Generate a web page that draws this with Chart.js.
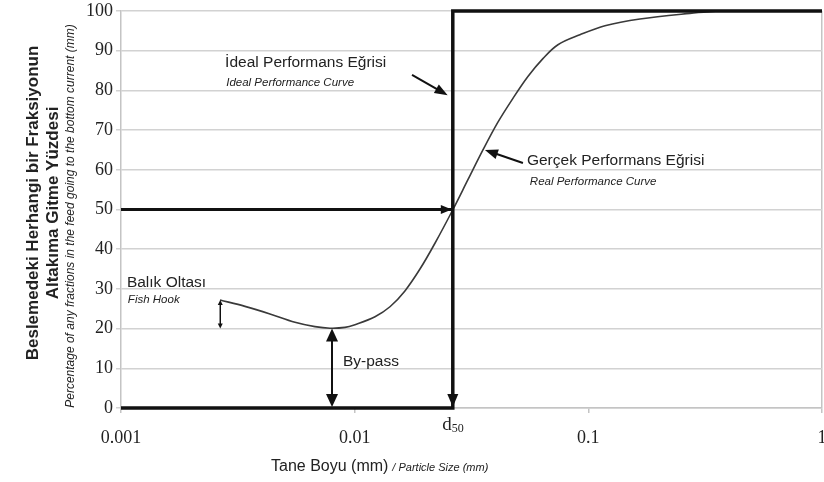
<!DOCTYPE html>
<html>
<head>
<meta charset="utf-8">
<script src="https://cdn.jsdelivr.net/npm/chart.js@4/dist/chart.umd.min.js"></script>
<style>
html,body{margin:0;padding:0;background:#fff;}
#wrap{width:824px;height:482px;position:relative;}
</style>
</head>
<body>
<div id="wrap"><canvas id="c" width="824" height="482"></canvas></div>
<script>
// ---- data ----
const particleSize = [0.002653, 0.003393, 0.004340, 0.005553, 0.006762, 0.007838, 0.009090, 0.01003, 0.01222, 0.01416, 0.01641, 0.01903, 0.02206, 0.02634, 0.03053, 0.03540, 0.04103, 0.04757, 0.05514, 0.06392, 0.07411, 0.09204, 0.1178, 0.1663, 0.2721, 0.3658];
const realPct      = [27.2,     25.6,     23.7,     21.6,     20.5,     20.1,     20.3,     21.0,    23.0,    25.5,    29.5,    35.0,    41.5,    50.0,    57.5,    65.0,    72.0,    78.0,    83.5,    88.0,    91.5,    94.0,    96.3,   98.0,   99.4,   100];
const d50 = 0.0263;
const idealX = [0.001, d50, d50, 1];
const idealY = [0, 0, 100, 100];
const cutX = [0.001, d50];
const cutY = [50, 50];
const xTickValues = [0.001, 0.01, 0.1, 1];
const xTickLabels = ['0.001', '0.01', '0.1', '1'];
const yMin = 0, yMax = 100, yStep = 10;
const bypassX = 0.0080, bypassLow = 0, bypassHigh = 20;
const hookX = 0.00266, hookLow = 20, hookHigh = 27.2;

// ---- chart ----
const toPts = (xs, ys) => xs.map((v, i) => ({x: v, y: ys[i]}));

function arrowHead(ctx, x, y, ang, len, wid) {
  ctx.save();
  ctx.translate(x, y);
  ctx.rotate(ang);
  ctx.beginPath();
  ctx.moveTo(0, 0);
  ctx.lineTo(-len, -wid / 2);
  ctx.lineTo(-len, wid / 2);
  ctx.closePath();
  ctx.fill();
  ctx.restore();
}
function arrow(ctx, x1, y1, x2, y2, lw, len, wid) {
  const ang = Math.atan2(y2 - y1, x2 - x1);
  ctx.lineWidth = lw;
  ctx.beginPath();
  ctx.moveTo(x1, y1);
  ctx.lineTo(x2 - Math.cos(ang) * len * 0.6, y2 - Math.sin(ang) * len * 0.6);
  ctx.stroke();
  arrowHead(ctx, x2, y2, ang, len, wid);
}

const SANS = '"Liberation Sans", Arial, sans-serif';
const SERIF = '"Liberation Serif", "Times New Roman", serif';

const annot = {
  id: 'annot',
  afterDatasetsDraw(chart) {
    const {ctx, scales: {x, y}, chartArea: ca} = chart;
    const X = v => x.getPixelForValue(v), Y = v => y.getPixelForValue(v);
    ctx.save();
    ctx.fillStyle = '#111';
    ctx.strokeStyle = '#111';
    // arrowhead at d50 on the 50% line
    arrowHead(ctx, X(d50) - 1, Y(50), 0, 11, 9);
    // arrowhead at bottom of the d50 line
    arrowHead(ctx, X(d50), Y(0) - 1, Math.PI / 2, 13, 11);
    // by-pass double arrow
    ctx.lineWidth = 2;
    ctx.beginPath();
    ctx.moveTo(X(bypassX), Y(bypassLow) - 10);
    ctx.lineTo(X(bypassX), Y(bypassHigh) + 10);
    ctx.stroke();
    arrowHead(ctx, X(bypassX), Y(bypassLow) - 1, Math.PI / 2, 13, 12);
    arrowHead(ctx, X(bypassX), Y(bypassHigh), -Math.PI / 2, 13, 12);
    // fish hook small double arrow
    ctx.lineWidth = 1.5;
    ctx.beginPath();
    ctx.moveTo(X(hookX), Y(hookLow) - 3);
    ctx.lineTo(X(hookX), Y(hookHigh) + 3);
    ctx.stroke();
    arrowHead(ctx, X(hookX), Y(hookLow), Math.PI / 2, 5, 5);
    arrowHead(ctx, X(hookX), Y(hookHigh), -Math.PI / 2, 5, 5);
    // pointer arrows
    arrow(ctx, X(0.0176), Y(83.9), X(0.0250), Y(78.8), 2, 13, 10);
    arrow(ctx, X(0.0525), Y(61.7), X(0.0361), Y(65.0), 2, 13, 10);

    // annotation texts
    ctx.fillStyle = '#222';
    ctx.textBaseline = 'middle';
    ctx.textAlign = 'left';
    ctx.font = '15.5px ' + SANS;
    ctx.fillText('İdeal Performans Eğrisi', X(0.00279), Y(87.0));
    ctx.fillText('Gerçek Performans Eğrisi', X(0.0546), Y(62.3));
    ctx.fillText('Balık Oltası', X(0.00106), Y(31.5));
    ctx.fillText('By-pass', X(0.00891), Y(11.6));
    ctx.font = 'italic 11.5px ' + SANS;
    ctx.fillText('Ideal Performance Curve', X(0.00282), Y(82.0));
    ctx.fillText('Real Performance Curve', X(0.0562), Y(56.9));
    ctx.fillText('Fish Hook', X(0.00107), Y(27.3));
    // d50 label
    ctx.textAlign = 'right';
    ctx.font = '19px ' + SERIF;
    ctx.fillText('d', X(d50) - 1, ca.bottom + 17);
    ctx.textAlign = 'left';
    ctx.font = '12px ' + SERIF;
    ctx.fillText('50', X(d50) - 1, ca.bottom + 21);
    ctx.restore();
  },
  afterDraw(chart) {
    const {ctx} = chart;
    ctx.save();
    ctx.fillStyle = '#222';
    ctx.textBaseline = 'middle';
    // y axis titles (rotated)
    const yt = [
      {txt: 'Beslemedeki Herhangi bir Fraksiyonun', x: 33, cy: 203, font: 'bold 17px ' + SANS},
      {txt: 'Altakıma Gitme Yüzdesi', x: 53, cy: 203, font: 'bold 17px ' + SANS},
      {txt: 'Percentage of any fractions in the feed going to the bottom current (mm)', x: 71, cy: 216, font: 'italic 12px ' + SANS}
    ];
    yt.forEach(t => {
      ctx.save();
      ctx.translate(t.x, t.cy);
      ctx.rotate(-Math.PI / 2);
      ctx.textAlign = 'center';
      ctx.font = t.font;
      ctx.fillText(t.txt, 0, 0);
      ctx.restore();
    });
    // x axis title
    ctx.textAlign = 'left';
    ctx.font = '16px ' + SANS;
    const t1 = 'Tane Boyu (mm)';
    const x0 = 271;
    ctx.fillText(t1, x0, 467);
    const w1 = ctx.measureText(t1).width;
    ctx.font = 'italic 11px ' + SANS;
    ctx.fillText('/ Particle Size (mm)', x0 + w1 + 4, 468);
    ctx.restore();
  }
};

new Chart(document.getElementById('c'), {
  type: 'scatter',
  data: {
    datasets: [
      {
        label: 'Real',
        data: toPts(particleSize, realPct),
        showLine: true,
        borderColor: '#3a3a3a',
        borderWidth: 1.6,
        pointRadius: 0,
        tension: 0.35,
        clip: false,
        order: 2
      },
      {
        label: 'Ideal',
        data: toPts(idealX, idealY),
        showLine: true,
        borderColor: '#111',
        borderWidth: 3.5,
        pointRadius: 0,
        tension: 0,
        clip: false,
        borderJoinStyle: 'miter',
        order: 1
      },
      {
        label: 'Cut',
        data: toPts(cutX, cutY),
        showLine: true,
        borderColor: '#111',
        borderWidth: 3,
        pointRadius: 0,
        tension: 0,
        clip: false,
        order: 1
      }
    ]
  },
  options: {
    responsive: false,
    animation: false,
    events: [],
    layout: {padding: {left: 0, right: 2, top: 11, bottom: 0}},
    plugins: {legend: {display: false}, tooltip: {enabled: false}, title: {display: false}},
    scales: {
      x: {
        type: 'logarithmic',
        min: 0.001,
        max: 1,
        afterBuildTicks: s => { s.ticks = xTickValues.map(v => ({value: v})); },
        afterFit: s => { s.height = 74; s.paddingLeft = 0; s.paddingRight = 0; },
        ticks: {
          autoSkip: false,
          maxRotation: 0,
          padding: 14,
          color: '#222',
          font: {family: SERIF, size: 18},
          callback: (v) => { const i = xTickValues.indexOf(v); return i >= 0 ? xTickLabels[i] : ''; }
        },
        grid: {
          drawOnChartArea: true,
          color: c => (c.tick && c.tick.value === 1) ? '#c4c4c4' : 'rgba(0,0,0,0)',
          lineWidth: 1.5,
          tickColor: '#c4c4c4',
          tickLength: 5
        },
        border: {display: true, color: '#c4c4c4', width: 1.5}
      },
      y: {
        min: yMin,
        max: yMax,
        afterFit: s => { s.width = 121; s.paddingTop = 0; s.paddingBottom = 0; },
        ticks: {
          stepSize: yStep,
          padding: 3,
          color: '#222',
          font: {family: SERIF, size: 18}
        },
        grid: {
          color: '#d2d2d2',
          lineWidth: 1.5,
          tickColor: '#d2d2d2',
          tickLength: 5
        },
        border: {display: true, color: '#c4c4c4', width: 1.5}
      }
    }
  },
  plugins: [annot]
});
</script>
</body>
</html>
